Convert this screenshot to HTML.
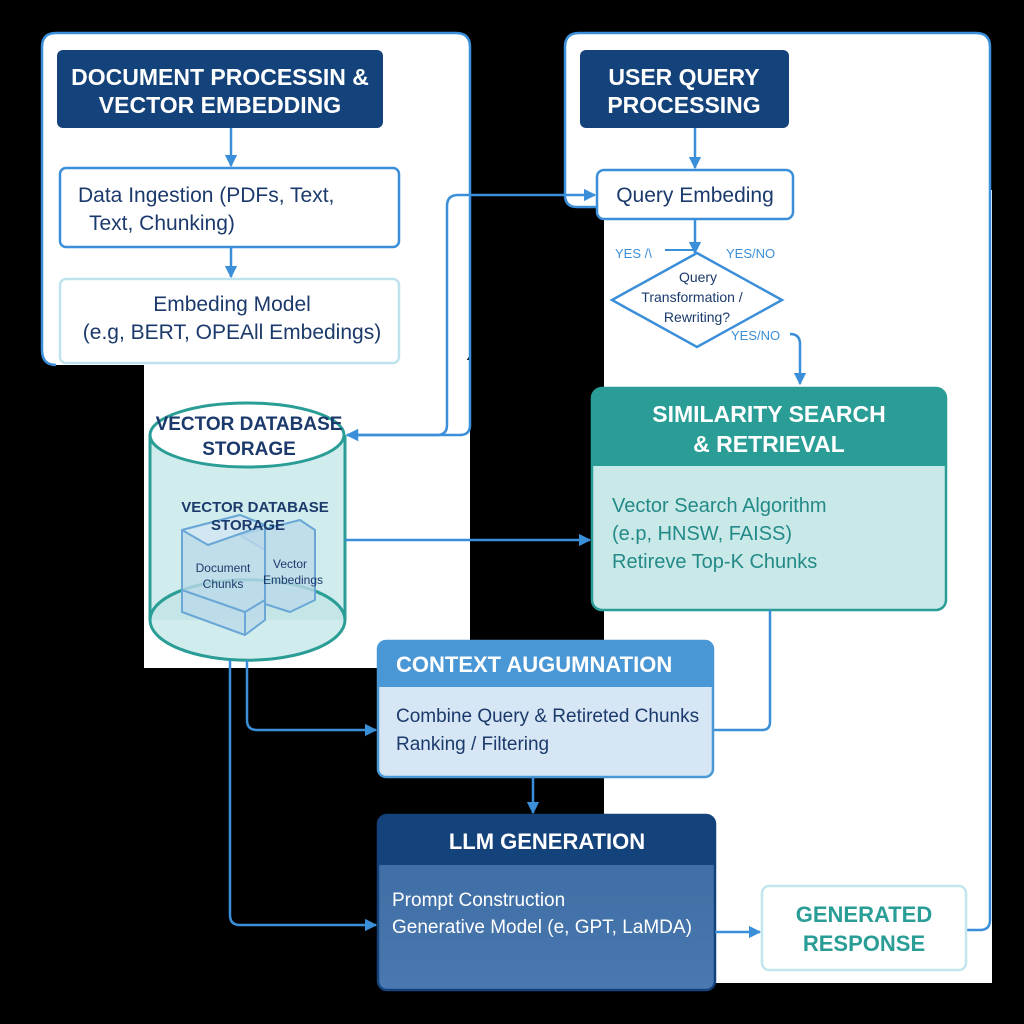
<!DOCTYPE html>
<html><head><meta charset="utf-8"><style>
html,body{margin:0;padding:0;background:#000;}
svg{display:block;}
text{font-family:"Liberation Sans",sans-serif;}
</style></head><body>
<svg width="1024" height="1024" viewBox="0 0 1024 1024" xmlns="http://www.w3.org/2000/svg">
<defs>
<marker id="ar" viewBox="0 0 10 10" refX="9" refY="5" markerWidth="5" markerHeight="5" orient="auto"><path d="M0,0 L10,5 L0,10 z" fill="#3b8fd9"/></marker>
<linearGradient id="llm" x1="0" y1="0" x2="0" y2="1"><stop offset="0" stop-color="#3a6ba1"/><stop offset="1" stop-color="#4a78b0"/></linearGradient>
</defs>
<rect width="1024" height="1024" fill="#000"/>
<rect x="42" y="33" width="428" height="332" rx="14" fill="#fff"/>
<rect x="144" y="360" width="326" height="308" fill="#fff"/>
<rect x="565" y="33" width="425" height="175" rx="14" fill="#fff"/>
<rect x="604" y="190" width="388" height="793" fill="#fff"/>
<path d="M56,365 Q42,365 42,350 L42,47 Q42,33 56,33 L456,33 Q470,33 470,47 L470,425 Q470,435 460,435" fill="none" stroke="#3b8fd9" stroke-width="2.5"/>
<path d="M565,195 L565,47 Q565,33 579,33 L976,33 Q990,33 990,47 L990,920 Q990,930 980,930 L966,930" fill="none" stroke="#3b8fd9" stroke-width="2.5"/>
<path d="M565,195 Q565,207 577,207 L597,207" fill="none" stroke="#3b8fd9" stroke-width="2.5"/>
<rect x="57" y="50" width="326" height="78" rx="6" fill="#14427a"/>
<text x="220" y="85" font-size="23" font-weight="bold" fill="#fff" text-anchor="middle">DOCUMENT PROCESSIN &amp;</text>
<text x="220" y="113" font-size="23" font-weight="bold" fill="#fff" text-anchor="middle">VECTOR EMBEDDING</text>
<rect x="580" y="50" width="209" height="78" rx="6" fill="#14427a"/>
<text x="684" y="85" font-size="23" font-weight="bold" fill="#fff" text-anchor="middle">USER QUERY</text>
<text x="684" y="113" font-size="23" font-weight="bold" fill="#fff" text-anchor="middle">PROCESSING</text>
<line x1="231" y1="128" x2="231" y2="166" stroke="#3b8fd9" stroke-width="2.5" marker-end="url(#ar)"/>
<rect x="60" y="168" width="339" height="79" rx="6" fill="#fff" stroke="#3b8fd9" stroke-width="2.5"/>
<text x="78" y="202" font-size="21" fill="#1b3a6b">Data Ingestion (PDFs, Text,</text>
<text x="89" y="230" font-size="21" fill="#1b3a6b">Text, Chunking)</text>
<line x1="231" y1="247" x2="231" y2="277" stroke="#3b8fd9" stroke-width="2.5" marker-end="url(#ar)"/>
<rect x="60" y="279" width="339" height="84" rx="6" fill="#fff" stroke="#bfe3ee" stroke-width="2.5"/>
<text x="232" y="311" font-size="21" fill="#1b3a6b" text-anchor="middle">Embeding Model</text>
<text x="232" y="339" font-size="21" fill="#1b3a6b" text-anchor="middle">(e.g, BERT, OPEAll Embedings)</text>
<line x1="695" y1="128" x2="695" y2="168" stroke="#3b8fd9" stroke-width="2.5" marker-end="url(#ar)"/>
<rect x="597" y="170" width="196" height="49" rx="7" fill="#fff" stroke="#3b8fd9" stroke-width="2.5"/>
<text x="695" y="202" font-size="21" fill="#1b3a6b" text-anchor="middle">Query Embeding</text>
<path d="M347,435 L437,435 Q447,435 447,425 L447,206 Q447,195 458,195 L595,195" fill="none" stroke="#3b8fd9" stroke-width="2.5" marker-end="url(#ar)"/>
<path d="M460,435 L347,435" fill="none" stroke="#3b8fd9" stroke-width="2.5" marker-end="url(#ar)"/>
<line x1="695" y1="219" x2="695" y2="253" stroke="#3b8fd9" stroke-width="2.5" marker-end="url(#ar)"/>
<line x1="665" y1="250" x2="695" y2="250" stroke="#3b8fd9" stroke-width="2"/>
<polygon points="697,253 782,300 697,347 612,300" fill="#fff" stroke="#3b8fd9" stroke-width="2.5"/>
<text x="698" y="282" font-size="14" fill="#1b3a6b" text-anchor="middle">Query</text>
<text x="692" y="302" font-size="14" fill="#1b3a6b" text-anchor="middle">Transformation /</text>
<text x="697" y="322" font-size="14" fill="#1b3a6b" text-anchor="middle">Rewriting?</text>
<text x="615" y="258" font-size="13" fill="#3b8fd9">YES /\</text>
<text x="726" y="258" font-size="13" fill="#3b8fd9">YES/NO</text>
<text x="731" y="340" font-size="13" fill="#3b8fd9">YES/NO</text>
<path d="M790,334 Q800,334 800,344 L800,384" fill="none" stroke="#3b8fd9" stroke-width="2.5" marker-end="url(#ar)"/>
<rect x="592" y="388" width="354" height="222" rx="10" fill="#c9e9e8" stroke="#2a9d96" stroke-width="2.5"/>
<path d="M602,388 L936,388 Q946,388 946,398 L946,466 L592,466 L592,398 Q592,388 602,388 z" fill="#2a9d96"/>
<text x="769" y="422" font-size="23" font-weight="bold" fill="#fff" text-anchor="middle">SIMILARITY SEARCH</text>
<text x="769" y="452" font-size="23" font-weight="bold" fill="#fff" text-anchor="middle">&amp; RETRIEVAL</text>
<text x="612" y="512" font-size="20" fill="#238a88">Vector Search Algorithm</text>
<text x="612" y="540" font-size="20" fill="#238a88">(e.p, HNSW, FAISS)</text>
<text x="612" y="568" font-size="20" fill="#238a88">Retireve Top-K Chunks</text>
<path d="M150,435 L150,620 A97,40 0 0 0 345,620 L345,435" fill="#d0ecec" stroke="#2a9d96" stroke-width="3"/>
<path d="M150,620 A97,40 0 0 1 345,620" fill="#c4e6e6" stroke="#2a9d96" stroke-width="3"/>
<ellipse cx="247" cy="435" rx="97" ry="32" fill="#fff" stroke="#2a9d96" stroke-width="3"/>
<text x="249" y="430" font-size="19" font-weight="bold" fill="#1b3a6b" text-anchor="middle">VECTOR DATABASE</text>
<text x="249" y="455" font-size="19" font-weight="bold" fill="#1b3a6b" text-anchor="middle">STORAGE</text>
<g stroke="#6aa7d6" stroke-width="2" stroke-linejoin="round">
<polygon points="240,535 300,520 315,530 315,600 290,612 265,604 265,550" fill="#bcd9ea" fill-opacity="0.8"/>
<polygon points="182,530 240,515 265,525 265,620 245,635 182,612" fill="#bcd9ea" fill-opacity="0.8"/>
<polygon points="182,530 240,515 265,525 208,545" fill="#d2e7f1"/>
<line x1="182" y1="590" x2="245" y2="612"/><line x1="245" y1="612" x2="265" y2="600"/><line x1="245" y1="612" x2="245" y2="635"/>
</g>
<text x="255" y="512" font-size="15" font-weight="bold" fill="#1b3a6b" text-anchor="middle">VECTOR DATABASE</text>
<text x="248" y="530" font-size="15" font-weight="bold" fill="#1b3a6b" text-anchor="middle">STORAGE</text>
<text x="223" y="572" font-size="12" fill="#1b3a6b" text-anchor="middle">Document</text>
<text x="223" y="588" font-size="12" fill="#1b3a6b" text-anchor="middle">Chunks</text>
<text x="290" y="568" font-size="12" fill="#1b3a6b" text-anchor="middle">Vector</text>
<text x="293" y="584" font-size="12" fill="#1b3a6b" text-anchor="middle">Embedings</text>
<line x1="345" y1="540" x2="590" y2="540" stroke="#3b8fd9" stroke-width="2.5" marker-end="url(#ar)"/>
<path d="M247,660 L247,720 Q247,730 257,730 L376,730" fill="none" stroke="#3b8fd9" stroke-width="2.5" marker-end="url(#ar)"/>
<path d="M230,660 L230,915 Q230,925 240,925 L376,925" fill="none" stroke="#3b8fd9" stroke-width="2.5" marker-end="url(#ar)"/>
<path d="M770,610 L770,722 Q770,730 762,730 L713,730" fill="none" stroke="#3b8fd9" stroke-width="2.5"/>
<rect x="378" y="641" width="335" height="136" rx="8" fill="#d6e6f5" stroke="#4a97d6" stroke-width="2.5"/>
<path d="M386,641 L705,641 Q713,641 713,649 L713,687 L378,687 L378,649 Q378,641 386,641 z" fill="#4a97d6"/>
<text x="396" y="672" font-size="22" font-weight="bold" fill="#fff">CONTEXT AUGUMNATION</text>
<text x="396" y="722" font-size="19" fill="#1b3a6b">Combine Query &amp; Retireted Chunks</text>
<text x="396" y="750" font-size="19" fill="#1b3a6b">Ranking / Filtering</text>
<line x1="533" y1="777" x2="533" y2="813" stroke="#3b8fd9" stroke-width="2.5" marker-end="url(#ar)"/>
<rect x="378" y="815" width="337" height="175" rx="9" fill="url(#llm)" stroke="#14427a" stroke-width="2.5"/>
<path d="M387,815 L706,815 Q715,815 715,824 L715,865 L378,865 L378,824 Q378,815 387,815 z" fill="#14427a"/>
<text x="547" y="849" font-size="22" font-weight="bold" fill="#fff" text-anchor="middle">LLM GENERATION</text>
<text x="392" y="906" font-size="19" fill="#fff">Prompt Construction</text>
<text x="392" y="933" font-size="19" fill="#fff">Generative Model (e, GPT, LaMDA)</text>
<line x1="715" y1="932" x2="760" y2="932" stroke="#3b8fd9" stroke-width="2.5" marker-end="url(#ar)"/>
<rect x="762" y="886" width="204" height="84" rx="7" fill="#fff" stroke="#c2e6ee" stroke-width="2.5"/>
<text x="864" y="922" font-size="22" font-weight="bold" fill="#2a9d96" text-anchor="middle">GENERATED</text>
<text x="864" y="951" font-size="22" font-weight="bold" fill="#2a9d96" text-anchor="middle">RESPONSE</text>
</svg>
</body></html>
